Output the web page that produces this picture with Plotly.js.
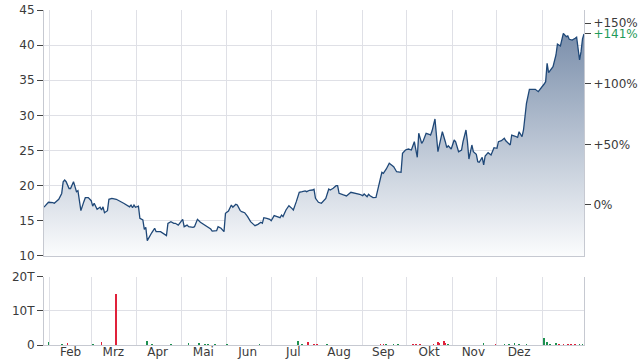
<!DOCTYPE html>
<html>
<head>
<meta charset="utf-8">
<script src="https://cdn.plot.ly/plotly-3.0.1.min.js"></script>
<style>html,body{margin:0;padding:0;background:#fff;}#chart{width:643px;height:361px;}</style>
</head>
<body>
<div id="chart"></div>
<script>
// ---- data ----
const priceDates = [
 "2023-01-28","2023-01-31","2023-02-03","2023-02-04","2023-02-07","2023-02-09","2023-02-10","2023-02-11","2023-02-12","2023-02-14",
 "2023-02-15","2023-02-17","2023-02-18","2023-02-19","2023-02-20","2023-02-22","2023-02-24","2023-02-25","2023-02-27","2023-03-01",
 "2023-03-02","2023-03-03","2023-03-05","2023-03-07","2023-03-08","2023-03-09","2023-03-10","2023-03-12","2023-03-13","2023-03-15",
 "2023-03-18","2023-03-20","2023-03-23","2023-03-27","2023-03-28","2023-03-29","2023-03-30","2023-03-31","2023-04-02","2023-04-03",
 "2023-04-05","2023-04-06","2023-04-07","2023-04-08","2023-04-10","2023-04-11","2023-04-13","2023-04-14","2023-04-17","2023-04-19",
 "2023-04-21","2023-04-22","2023-04-24","2023-04-26","2023-04-27","2023-04-29","2023-05-01","2023-05-02","2023-05-03","2023-05-05",
 "2023-05-06","2023-05-09","2023-05-10","2023-05-12","2023-05-14","2023-05-16","2023-05-18","2023-05-21","2023-05-22","2023-05-25",
 "2023-05-26","2023-05-28","2023-05-30","2023-05-31","2023-06-02","2023-06-04","2023-06-05","2023-06-07","2023-06-08","2023-06-10",
 "2023-06-11","2023-06-13","2023-06-15","2023-06-17","2023-06-19","2023-06-20","2023-06-22","2023-06-24","2023-06-25","2023-06-26",
 "2023-06-28","2023-06-30","2023-07-01","2023-07-03","2023-07-05","2023-07-07","2023-07-08","2023-07-09","2023-07-11","2023-07-13",
 "2023-07-15","2023-07-16","2023-07-18","2023-07-20","2023-07-22","2023-07-24","2023-07-25","2023-07-27","2023-07-29","2023-07-30",
 "2023-07-31","2023-08-02","2023-08-04","2023-08-06","2023-08-07","2023-08-09","2023-08-10","2023-08-12","2023-08-13","2023-08-14",
 "2023-08-15","2023-08-16","2023-08-19","2023-08-21","2023-08-24","2023-08-26","2023-08-28","2023-08-30","2023-09-01","2023-09-02",
 "2023-09-04","2023-09-05","2023-09-06","2023-09-08","2023-09-10","2023-09-12","2023-09-14","2023-09-15","2023-09-17","2023-09-19",
 "2023-09-22","2023-09-24","2023-09-27","2023-09-28","2023-09-30","2023-10-02","2023-10-04","2023-10-06","2023-10-08","2023-10-09",
 "2023-10-11","2023-10-12","2023-10-14","2023-10-16","2023-10-17","2023-10-18","2023-10-20","2023-10-22","2023-10-24","2023-10-25",
 "2023-10-27","2023-10-28","2023-10-29","2023-10-31","2023-11-02","2023-11-03","2023-11-05","2023-11-07","2023-11-08","2023-11-10",
 "2023-11-11","2023-11-12","2023-11-14","2023-11-15","2023-11-17","2023-11-18","2023-11-19","2023-11-21","2023-11-22","2023-11-23",
 "2023-11-25","2023-11-27","2023-11-29","2023-12-01","2023-12-02","2023-12-04","2023-12-06","2023-12-07","2023-12-10","2023-12-11",
 "2023-12-13","2023-12-15","2023-12-16","2023-12-18","2023-12-19","2023-12-20","2023-12-21","2023-12-23","2023-12-25","2023-12-27",
 "2023-12-29","2023-12-31","2024-01-02","2024-01-03","2024-01-04","2024-01-05","2024-01-07","2024-01-08","2024-01-10","2024-01-11",
 "2024-01-13","2024-01-14","2024-01-15","2024-01-17","2024-01-18","2024-01-19","2024-01-21","2024-01-23","2024-01-24","2024-01-26",
 "2024-01-27","2024-01-28","2024-01-29"
];
const priceValues = [
 16.95,17.64,17.6,17.5,18.07,18.9,20.57,20.8,20.57,19.6,
 19.6,20.57,19.86,19.15,19.3,16.45,17.73,18.3,18.3,17.87,
 17.1,17.5,16.64,16.93,16.55,17.0,16.16,16.45,18.07,18.2,
 18.07,17.87,17.5,17.0,17.25,16.87,17.25,16.93,17.1,15.36,
 15.12,13.8,14.08,12.18,13.0,13.3,13.94,13.46,13.46,13.23,
 12.9,14.65,14.88,14.65,14.65,14.4,14.88,15.22,14.17,14.4,
 14.17,14.08,14.17,15.22,14.79,14.5,14.17,13.84,13.55,13.6,
 14.17,13.94,13.46,16.07,16.4,17.25,16.93,17.36,17.25,16.45,
 16.3,16.16,15.6,14.88,14.5,14.31,14.5,14.79,14.65,15.45,
 15.36,15.22,15.02,15.74,15.6,15.45,15.83,15.6,16.55,17.16,
 16.78,16.55,17.73,19.06,19.15,19.25,19.15,19.35,19.39,19.49,
 18.2,17.64,17.5,17.97,18.2,19.53,19.39,19.63,19.86,20.0,
 20.0,18.92,18.68,18.54,19.06,19.0,18.92,18.78,18.58,18.82,
 18.44,18.78,18.58,18.3,18.35,20.1,21.9,21.77,22.38,23.19,
 22.7,21.99,21.9,24.61,25.08,25.22,25.08,26.26,24.04,27.46,
 26.03,26.36,27.46,27.32,27.21,27.78,29.49,24.84,26.5,27.68,
 26.26,25.41,25.69,25.22,26.5,26.26,24.84,25.08,26.26,27.93,
 26.26,23.8,25.79,24.84,24.47,23.42,23.33,24.04,22.95,24.23,
 24.7,24.37,25.41,25.32,26.26,26.4,26.74,26.4,25.79,27.21,
 27.07,26.88,27.68,26.97,27.93,30.06,31.72,33.71,33.76,33.71,
 33.38,33.86,34.47,34.8,37.41,36.08,36.56,36.93,38.6,40.16,
 39.88,40.64,41.68,41.2,41.3,40.83,40.73,40.97,41.12,37.89,
 39.07,40.9,41.6
];
const basePrice = 17.26;   // reference price for the percent axis (0%)

// volume in units ("T" = Tausend)
const volUpDates = ["2023-01-31","2023-02-09","2023-03-02","2023-04-08","2023-04-11","2023-04-24","2023-05-06","2023-05-13","2023-05-17","2023-05-19",
 "2023-05-24","2023-06-01","2023-06-23","2023-07-19","2023-07-22","2023-08-08","2023-09-17","2023-09-22","2023-09-25","2023-10-29",
 "2023-11-22","2023-12-06","2023-12-09","2023-12-13","2023-12-16","2023-12-21","2024-01-02","2024-01-04","2024-01-06","2024-01-10",
 "2024-01-26","2024-01-28"];
const volUpValues = [800,300,300,1200,400,300,500,700,400,300,
 200,300,300,1200,400,300,200,300,400,300,
 500,300,300,500,300,300,2000,1000,400,600,
 300,300];
const volDownDates = ["2023-02-13","2023-03-08","2023-03-18","2023-07-26","2023-07-30","2023-08-01","2023-09-13","2023-09-15","2023-10-05","2023-10-07",
 "2023-10-10","2023-10-19","2023-10-22","2023-10-23","2023-10-26","2023-10-27","2023-11-30","2024-01-12","2024-01-15","2024-01-18",
 "2024-01-20","2024-01-23"];
const volDownValues = [600,900,15100,900,400,300,300,300,300,300,
 300,400,900,600,1200,600,300,300,300,400,
 300,300];

const monthLabelDates = ["2023-02-15","2023-03-16","2023-04-15","2023-05-16","2023-06-15","2023-07-16","2023-08-16","2023-09-15","2023-10-16","2023-11-15","2023-12-16"];
const monthLabels = ["Feb","Mrz","Apr","Mai","Jun","Jul","Aug","Sep","Okt","Nov","Dez"];
const monthStarts = ["2023-02-01","2023-03-01","2023-04-01","2023-05-01","2023-06-01","2023-07-01","2023-08-01","2023-09-01","2023-10-01","2023-11-01","2023-12-01","2024-01-01"];

const priceTicks = [10,15,20,25,30,35,40,45];
const pctTicks = [0,50,100,150];
const volTicks = [0,10000,20000];
const volTickLabels = ["0","10T","20T"];

// ---- build ----
const xRange = ["2023-01-28","2024-01-29"];
const yRange = [10,45];
const pctRange = [(yRange[0]/basePrice - 1)*100, (yRange[1]/basePrice - 1)*100];
const lastPct = Math.round((priceValues[priceValues.length-1]/basePrice - 1)*100);
const pctVals = pctTicks.concat([lastPct]);
const pctText = pctTicks.map(v => (v>0?"+":"") + v + "%").concat(['<span style="color:#1f9a5a">+' + lastPct + '%</span>']);

const gridC = "#dfe0e6", lineC = "#c6c9d1", txtC = "#3a3a3a";
const fontF = "DejaVu Sans, Verdana, sans-serif";

const traces = [
  {
    x: priceDates, y: priceValues, type: "scatter", mode: "lines",
    xaxis: "x", yaxis: "y",
    line: {color: "#1f4878", width: 1.3},
    fill: "tozeroy",
    fillgradient: {type: "vertical", start: 10, stop: 45,
      colorscale: [[0, "rgb(251,252,253)"], [1, "rgb(110,132,163)"]]},
    hoverinfo: "skip"
  },
  {
    // invisible helper so the percent axis gets drawn
    x: xRange, y: pctRange, type: "scatter", mode: "markers",
    xaxis: "x", yaxis: "y2", marker: {opacity: 0, size: 1}, hoverinfo: "skip"
  },
  {
    x: volUpDates, y: volUpValues, type: "bar", xaxis: "x2", yaxis: "y3",
    marker: {color: "#1d9150", line: {width: 0}}, width: 1.1*86400000, hoverinfo: "skip"
  },
  {
    x: volDownDates, y: volDownValues, type: "bar", xaxis: "x2", yaxis: "y3",
    marker: {color: "#e0213a", line: {width: 0}}, width: 1.1*86400000, hoverinfo: "skip"
  }
];

const minorGrid = {tickmode: "array", tickvals: monthStarts, showgrid: true, gridcolor: gridC, gridwidth: 1, ticks: ""};

const layout = {
  width: 643, height: 361,
  margin: {l: 44, r: 59, t: 10, b: 16, pad: 0},
  paper_bgcolor: "#fff", plot_bgcolor: "#fff",
  showlegend: false, hovermode: false, bargap: 0,
  font: {family: fontF, size: 12, color: txtC},
  xaxis: {
    type: "date", range: xRange, anchor: "y", domain: [0,1],
    showticklabels: false, ticks: "", showgrid: false, zeroline: false,
    tickmode: "array", tickvals: monthLabelDates, ticktext: monthLabels,
    minor: minorGrid,
    showline: true, linecolor: lineC, linewidth: 1
  },
  xaxis2: {
    type: "date", range: xRange, anchor: "y3", matches: "x", domain: [0,1],
    tickmode: "array", tickvals: monthLabelDates, ticktext: monthLabels,
    ticks: "", showgrid: false, zeroline: false, ticklabelstandoff: -4,
    minor: minorGrid,
    showline: true, linecolor: lineC, linewidth: 1,
    tickfont: {family: fontF, size: 12, color: txtC}
  },
  yaxis: {
    domain: [0.2657, 1], range: yRange, anchor: "x",
    tickmode: "array", tickvals: priceTicks,
    ticks: "outside", ticklen: 6, tickcolor: "#444", tickwidth: 1,
    showgrid: true, gridcolor: gridC, zeroline: false,
    showline: true, linecolor: lineC, linewidth: 1, mirror: true,
    tickfont: {family: fontF, size: 12, color: txtC}
  },
  yaxis2: {
    overlaying: "y", side: "right", anchor: "x",
    range: pctRange,
    tickmode: "array", tickvals: pctVals, ticktext: pctText,
    ticks: "outside", ticklen: 6, tickcolor: "#444", tickwidth: 1,
    showgrid: false, zeroline: false, showline: false,
    tickfont: {family: fontF, size: 12, color: txtC}
  },
  yaxis3: {
    domain: [0, 0.203], range: [0, 20000], anchor: "x2",
    tickmode: "array", tickvals: volTicks, ticktext: volTickLabels,
    ticks: "outside", ticklen: 6, tickcolor: "#444", tickwidth: 1,
    showgrid: true, gridcolor: gridC, zeroline: false,
    showline: true, linecolor: lineC, linewidth: 1, mirror: true,
    tickfont: {family: fontF, size: 12, color: txtC}
  }
};

Plotly.newPlot("chart", traces, layout, {displayModeBar: false, staticPlot: true});
</script>
</body>
</html>
